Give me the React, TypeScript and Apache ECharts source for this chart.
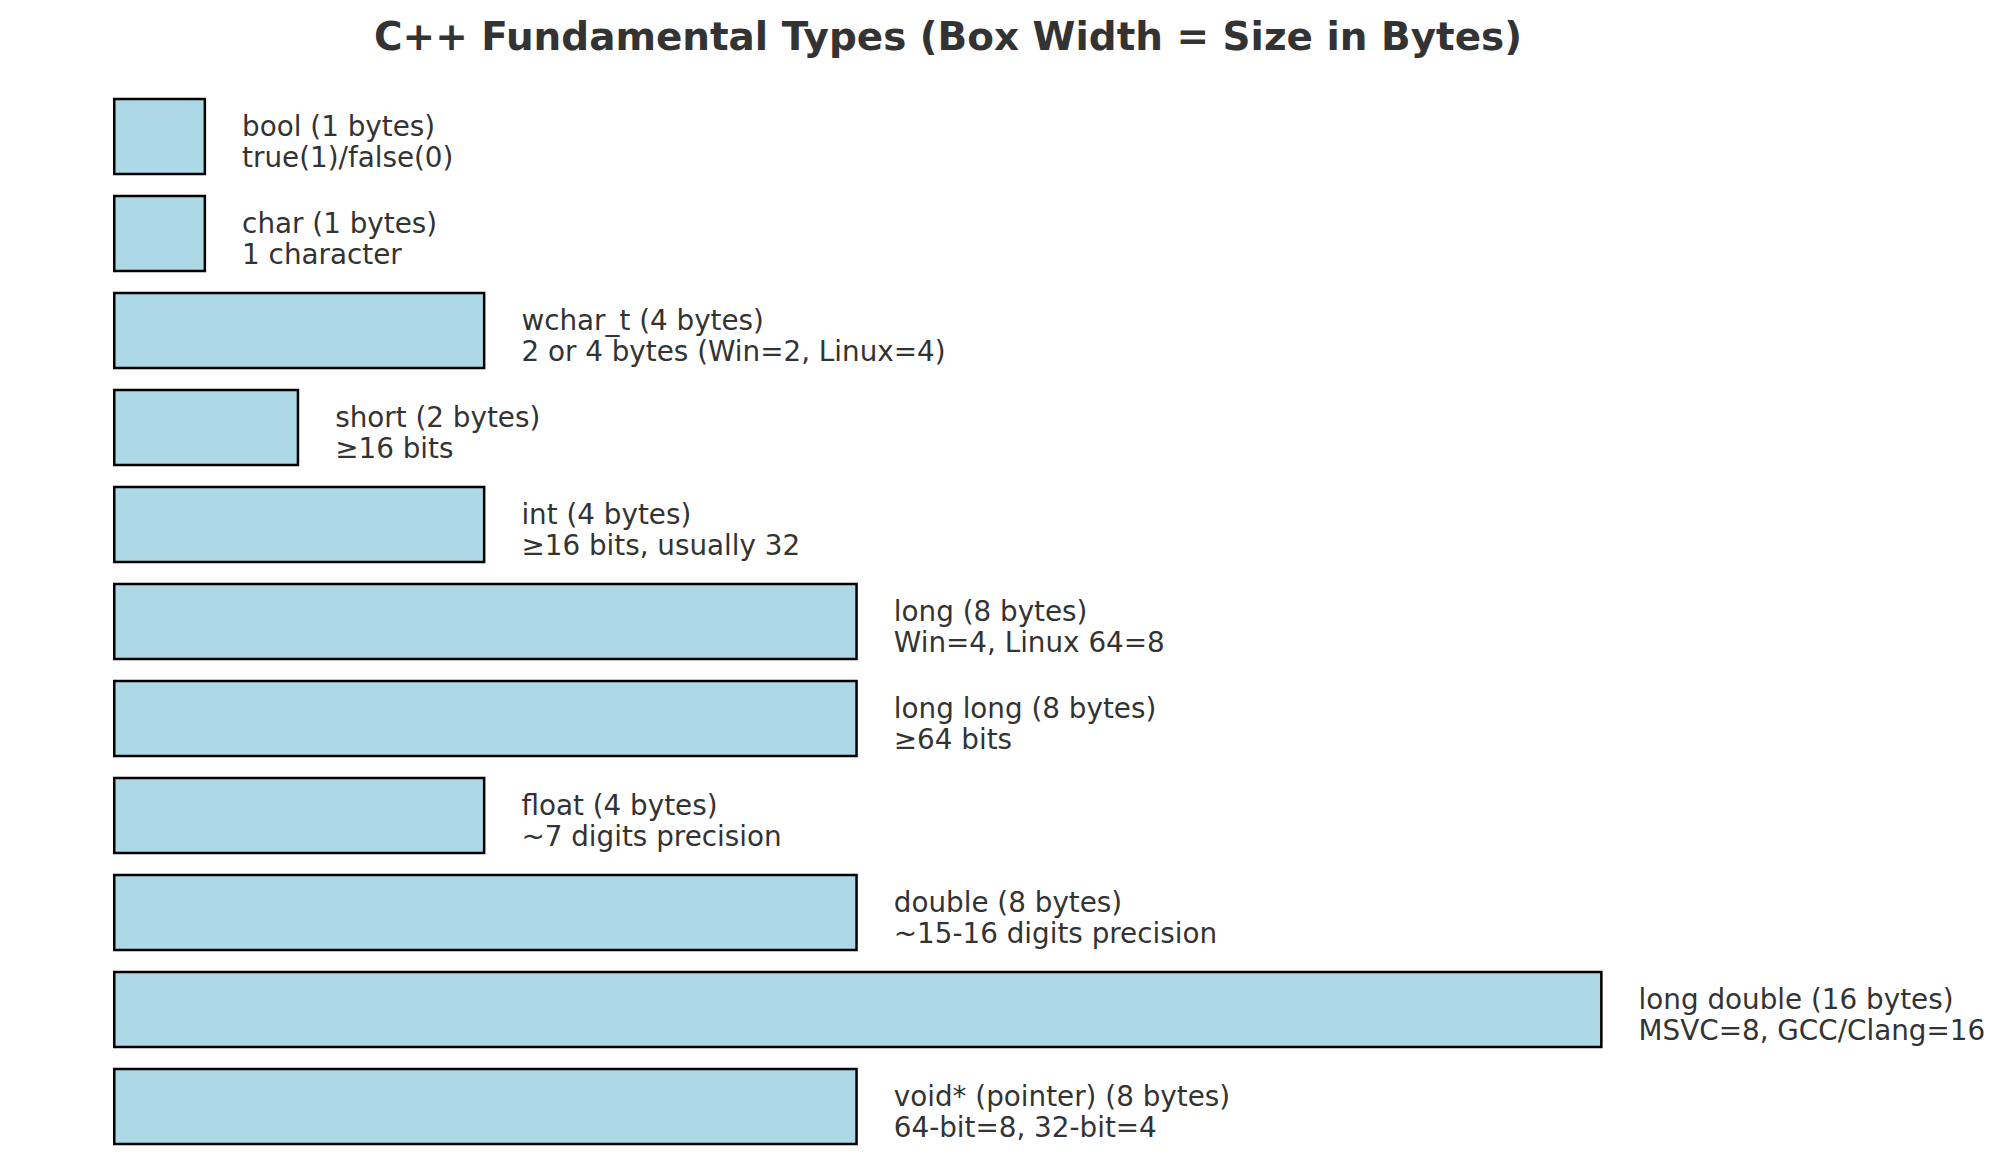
import React, { useEffect, useRef } from "react";
import * as echarts from "echarts";

const typeNames = ["bool", "char", "wchar_t", "short", "int", "long", "long long", "float", "double", "long double", "void* (pointer)"];
const typeSizes = [1, 1, 4, 2, 4, 8, 8, 4, 8, 16, 8];
const typeNotes = [
  "true(1)/false(0)",
  "1 character",
  "2 or 4 bytes (Win=2, Linux=4)",
  "≥16 bits",
  "≥16 bits, usually 32",
  "Win=4, Linux 64=8",
  "≥64 bits",
  "~7 digits precision",
  "~15-16 digits precision",
  "MSVC=8, GCC/Clang=16",
  "64-bit=8, 32-bit=4",
];
const titleText = "C++ Fundamental Types (Box Width = Size in Bytes)";

export default function App() {
  const ref = useRef<HTMLDivElement>(null);
  useEffect(() => {
    if (!ref.current) return;
    const chart = echarts.init(ref.current, null, { renderer: "svg" });
    const font = "DejaVu Sans";
    chart.setOption({
      animation: false,
      backgroundColor: "#ffffff",
      graphic: [
        {
          type: "text",
          x: 948,
          y: 36,
          style: {
            text: titleText,
            fontFamily: font,
            fontWeight: "bold",
            fontSize: 38.9,
            fill: "#333333",
            align: "center",
            verticalAlign: "middle",
          },
        },
      ],
      grid: { left: 113, top: 88, width: 1862, height: 1067, containLabel: false },
      xAxis: { type: "value", min: 0, max: 20, show: false },
      yAxis: { type: "category", data: typeNames, inverse: true, show: false },
      series: [
        {
          type: "bar",
          data: typeSizes,
          barWidth: "80%",
          itemStyle: { color: "#add8e6", borderColor: "#000000", borderWidth: 2.5 },
          label: {
            show: true,
            position: "right",
            distance: 36,
            offset: [0, 5],
            align: "left",
            fontFamily: font,
            fontSize: 27.8,
            lineHeight: 31,
            color: "#333333",
            formatter: (p: any) => `${typeNames[p.dataIndex]} (${typeSizes[p.dataIndex]} bytes)\n${typeNotes[p.dataIndex]}`,
          },
        },
      ],
    });
    return () => chart.dispose();
  }, []);
  return <div ref={ref} style={{ position: "fixed", left: 0, top: 0, width: 2004, height: 1164 }} />;
}
